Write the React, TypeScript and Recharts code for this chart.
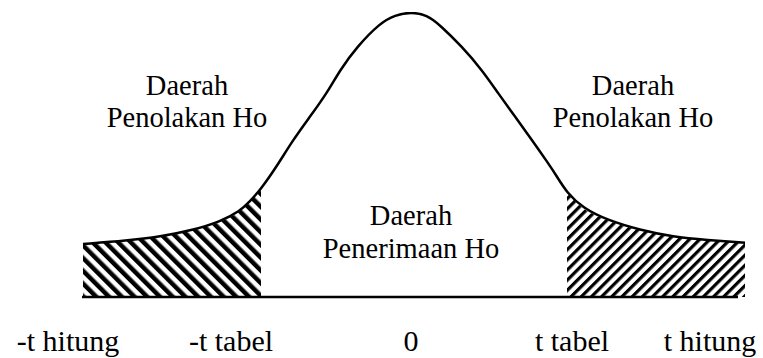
import { ComposedChart, Area, Line, XAxis, YAxis, ReferenceLine } from 'recharts';

// nilai t (sumbu horizontal) dan tinggi kurva yang dibaca dari gambar
const tNilai = [
  -6.56, -5.68, -5.02, -4.36, -3.82, -3.42, -3.22, -3.0, -2.68, -2.36, -2.02, -1.68, -1.42, -1.08, -0.62, -0.32,
  0, 0.32, 0.58, 1.02, 1.42, 1.74, 2.08, 2.42, 2.74, 2.9, 3.12, 3.44, 3.92, 4.58, 5.24, 5.92, 6.68,
];
const kepadatan = [
  0.0744, 0.079, 0.0846, 0.094, 0.1057, 0.1207, 0.1343, 0.1516, 0.1839, 0.2204, 0.2531, 0.2863, 0.3186, 0.3513, 0.3846, 0.3958,
  0.4, 0.3958, 0.3817, 0.3513, 0.3186, 0.2863, 0.2531, 0.2204, 0.1881, 0.1712, 0.146, 0.1249, 0.1081, 0.094, 0.0846, 0.08, 0.0762,
];

// batas daerah penolakan (-t tabel dan t tabel)
const batasKiri = -3.0;
const batasKanan = 3.12;

// label sumbu bawah
const tickNilai = [-6.86, -3.6, 0, 3.22, 5.98];
const tickLabel = ['-t hitung', '-t tabel', '0', 't tabel', 't hitung'];

// teks daerah
const daerahKiri = ['Daerah', 'Penolakan Ho'];
const daerahTengah = ['Daerah', 'Penerimaan Ho'];
const daerahKanan = ['Daerah', 'Penolakan Ho'];

const FONT = '"Liberation Serif", "Times New Roman", Times, "DejaVu Serif", serif';

const data = tNilai.map((t, i) => ({
  t,
  y: kepadatan[i],
  kiri: t <= batasKiri ? kepadatan[i] : null,
  kanan: t >= batasKanan ? kepadatan[i] : null,
}));

const TickBawah = (props: any) => {
  const { x, y, payload } = props;
  const idx = tickNilai.indexOf(payload.value);
  return (
    <text x={x} y={y + 54} textAnchor="middle" style={{ fontFamily: FONT, fontSize: 30 }} fill="#000">
      {tickLabel[idx]}
    </text>
  );
};

const LabelDaerah = ({ lines, cx, top, lh }: { lines: string[]; cx: number; top: number; lh: number }) => (
  <div
    style={{
      position: 'absolute',
      left: cx - 120,
      top,
      width: 240,
      textAlign: 'center',
      fontFamily: FONT,
      fontSize: 28.5,
      lineHeight: `${lh}px`,
      color: '#000',
      pointerEvents: 'none',
    }}
  >
    {lines.map((l) => (
      <div key={l}>{l}</div>
    ))}
  </div>
);

export default function App() {
  return (
    <div style={{ position: 'relative', width: 763, height: 358, background: '#fff' }}>
      <style>{'body{margin:0}'}</style>
      <ComposedChart width={763} height={358} data={data} margin={{ top: 12, right: 15, left: 61, bottom: 11 }}>
        <defs>
          <pattern id="arsirKiri" width="9" height="9" patternUnits="userSpaceOnUse" patternTransform="rotate(-45)">
            <rect x="0" y="0" width="4.5" height="9" fill="#000" />
          </pattern>
          <pattern id="arsirKanan" width="7.2" height="7.2" patternUnits="userSpaceOnUse" patternTransform="rotate(45)">
            <rect x="0" y="0" width="3.2" height="7.2" fill="#000" />
          </pattern>
        </defs>
        <XAxis
          dataKey="t"
          type="number"
          domain={[-7, 6.74]}
          allowDataOverflow
          ticks={tickNilai}
          interval={0}
          tick={<TickBawah />}
          tickLine={false}
          axisLine={false}
          tickSize={0}
          tickMargin={0}
          height={50}
        />
        <YAxis type="number" domain={[0, 0.4]} allowDataOverflow hide />
        <Area
          dataKey="kiri"
          type="monotone"
          stroke="none"
          fill="url(#arsirKiri)"
          fillOpacity={1}
          isAnimationActive={false}
          connectNulls={false}
        />
        <Area
          dataKey="kanan"
          type="monotone"
          stroke="none"
          fill="url(#arsirKanan)"
          fillOpacity={1}
          isAnimationActive={false}
          connectNulls={false}
        />
        <Line dataKey="y" type="basis" stroke="#000" strokeWidth={2.5} dot={false} isAnimationActive={false} />
        <ReferenceLine
          segment={[
            { x: -6.58, y: 0 },
            { x: 6.54, y: 0 },
          ]}
          stroke="#000"
          strokeWidth={2.5}
          ifOverflow="visible"
        />
      </ComposedChart>
      <LabelDaerah lines={daerahKiri} cx={187} top={70} lh={32} />
      <LabelDaerah lines={daerahTengah} cx={411} top={199} lh={33} />
      <LabelDaerah lines={daerahKanan} cx={633} top={70} lh={32} />
    </div>
  );
}
